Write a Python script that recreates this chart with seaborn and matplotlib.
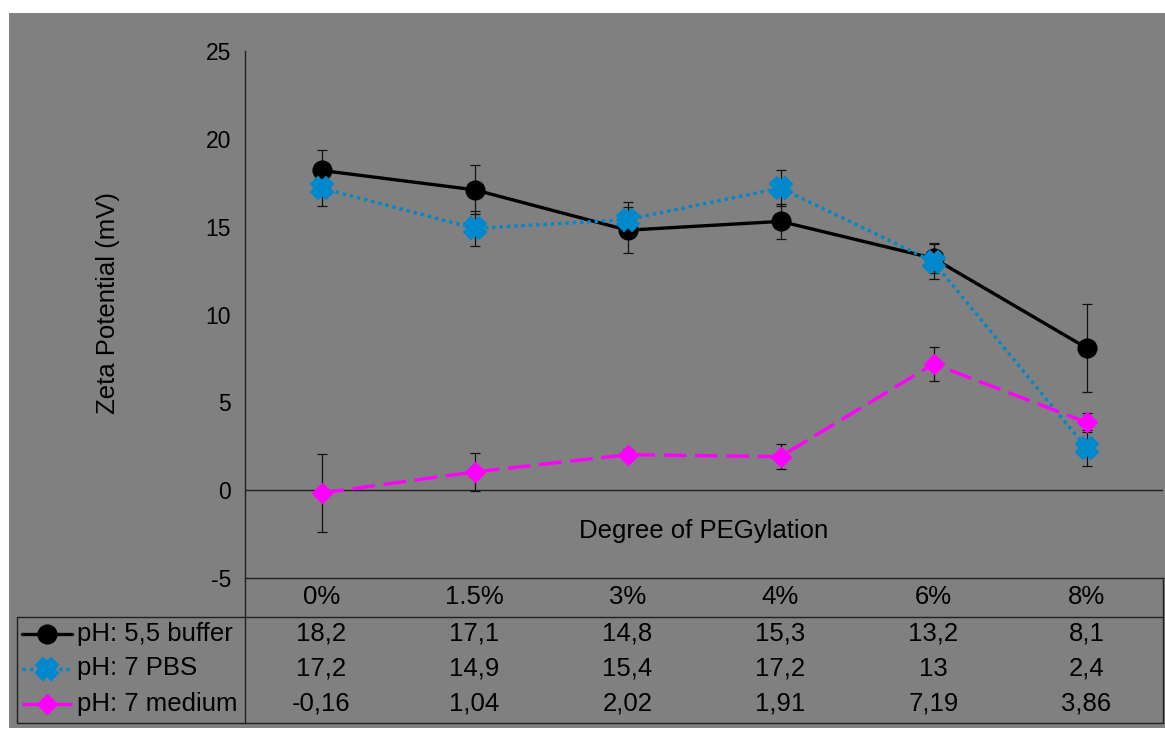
import matplotlib
matplotlib.use('Agg')
import matplotlib.pyplot as plt
from matplotlib.patches import Rectangle
import seaborn as sns

# Zeta potential vs degree of PEGylation
degrees = ['0%', '1.5%', '3%', '4%', '6%', '8%']
names = ['pH: 5,5 buffer', 'pH: 7 PBS', 'pH: 7 medium']
buffer_55 = [18.2, 17.1, 14.8, 15.3, 13.2, 8.1]
pbs_7 = [17.2, 14.9, 15.4, 17.2, 13.0, 2.4]
medium_7 = [-0.16, 1.04, 2.02, 1.91, 7.19, 3.86]
buffer_55_err = [1.15, 1.4, 1.3, 1.0, 0.85, 2.5]
pbs_7_err = [1.0, 1.0, 1.0, 1.0, 1.0, 1.0]
medium_7_err = [2.2, 1.1, 0.3, 0.72, 0.95, 0.56]

sns.set_style('white')
plt.rcParams['font.family'] = ['Liberation Sans', 'DejaVu Sans']
plt.rcParams['text.color'] = 'black'
plt.rcParams['ytick.color'] = 'black'
plt.rcParams['axes.unicode_minus'] = False

W, H = 1165, 734
fig = plt.figure(figsize=(W / 100, H / 100), dpi=100, facecolor='white')
fig.patches.append(Rectangle((9 / W, 1 - 728 / H), (W - 9) / W, (728 - 13) / H,
                             transform=fig.transFigure, facecolor='#808080',
                             edgecolor='none', zorder=-5))

ax = fig.add_axes([245 / W, 1 - 578 / H, (1163 - 245) / W, (578 - 51) / H])
ax.set_facecolor('none')

styles = [
    dict(color='black', marker='o', markersize=13.5, linewidth=2.4, linestyle='-',
         markeredgecolor='black', markeredgewidth=1),
    dict(color='#0088CC', marker='X', markersize=11, linewidth=2.4, linestyle=(0, (1, 1.2)),
         markeredgecolor='#0088CC', markeredgewidth=4.5),
    dict(color='#FF00FF', marker='D', markersize=10, linewidth=2.4, linestyle=(0, (6.8, 2.6)),
         markeredgecolor='#FF00FF', markeredgewidth=1),
]
series = [buffer_55, pbs_7, medium_7]
errors = [buffer_55_err, pbs_7_err, medium_7_err]

for vals, errs, st in zip(series, errors, styles):
    ax.errorbar(degrees, vals, yerr=errs, fmt='none', ecolor='#111111',
                elinewidth=0.9, capsize=3.3, capthick=0.9, zorder=2)
    sns.lineplot(x=degrees, y=vals, ax=ax, sort=False, zorder=3, **st)

ax.set_xlim(-0.5, 5.5)
ax.set_ylim(-5, 25)
ax.set_yticks(range(-5, 26, 5))
ax.axhline(0, color='#202020', lw=1, zorder=1)
for s in ['top', 'right']:
    ax.spines[s].set_visible(False)
ax.spines['left'].set_color('#202020')
ax.spines['bottom'].set_color('#202020')
ax.spines['left'].set_linewidth(1)
ax.spines['bottom'].set_linewidth(1)
ax.tick_params(axis='x', bottom=False, labelbottom=False)
ax.tick_params(axis='y', direction='out', length=4, width=1, color='#202020',
               labelcolor='black', labelsize=16.5, pad=6)
ax.set_xlabel('')
ax.set_ylabel('')

fig.text(108 / W, 1 - 303 / H, 'Zeta Potential (mV)', rotation=90, fontsize=18.5,
         ha='center', va='center')
ax.text(0.5, (578 - 531) / 527, 'Degree of PEGylation', transform=ax.transAxes,
        fontsize=18.5, ha='center', va='center')

# data table under the axis
def ay(py):
    return (578 - py) / 527

def axx(px):
    return (px - 245) / 918

tkw = dict(transform=ax.transAxes, clip_on=False, color='#202020', lw=1)
ax.plot([1, 1], [ay(578), ay(723)], **tkw)
ax.plot([0, 0], [ay(578), ay(723)], **tkw)
ax.plot([axx(17), 1], [ay(617), ay(617)], **tkw)
ax.plot([axx(17), 1], [ay(723), ay(723)], **tkw)
ax.plot([axx(17), axx(17)], [ay(617), ay(723)], **tkw)

n = len(degrees)
for i, d in enumerate(degrees):
    ax.text((i + 0.5) / n, ay(597), d, transform=ax.transAxes, fontsize=18.5,
            ha='center', va='center')

row_y = [634, 668.5, 704]
for r, (name, vals, st) in enumerate(zip(names, series, styles)):
    yy = ay(row_y[r])
    ax.plot([axx(22), axx(72)], [yy, yy], transform=ax.transAxes, clip_on=False,
            color=st['color'], lw=st['linewidth'], ls=st['linestyle'])
    ax.plot([axx(47)], [yy], transform=ax.transAxes, clip_on=False,
            color=st['color'], marker=st['marker'], markersize=st['markersize'],
            markeredgecolor=st['markeredgecolor'], markeredgewidth=st['markeredgewidth'])
    ax.text(axx(77), yy, name, transform=ax.transAxes, fontsize=18.5,
            ha='left', va='center')
    for i, v in enumerate(vals):
        ax.text((i + 0.5) / n, yy, f'{v:g}'.replace('.', ','), transform=ax.transAxes,
                fontsize=18.5, ha='center', va='center')

fig.savefig('out.png', dpi=100, facecolor=fig.get_facecolor())
